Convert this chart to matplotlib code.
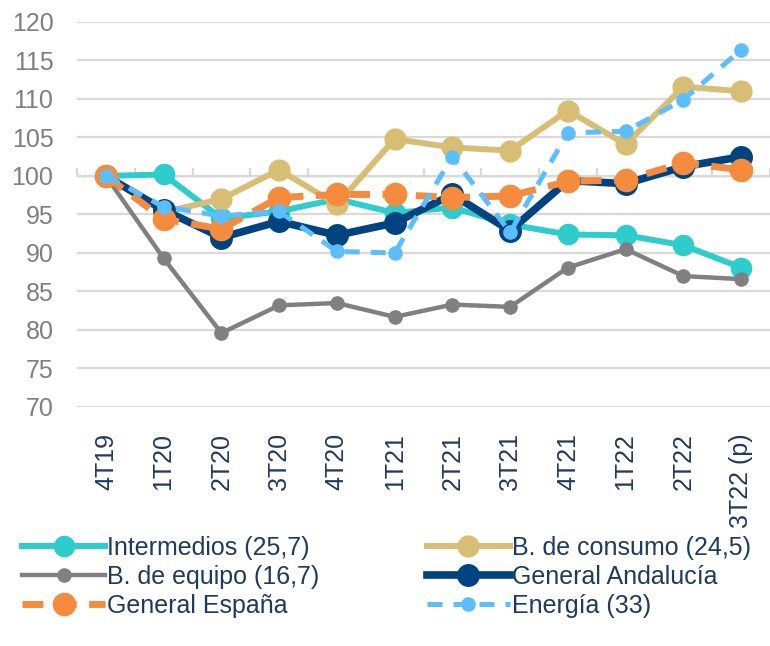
import numpy as np
import matplotlib
matplotlib.use("Agg")
import matplotlib.pyplot as plt

plt.rcParams['font.family'] = ['Liberation Sans', 'DejaVu Sans']

# quarters on the x axis
quarters = ['4T19', '1T20', '2T20', '3T20', '4T20', '1T21', '2T21', '3T21',
            '4T21', '1T22', '2T22', '3T22 (p)']

# index values (4T19 = 100)
intermedios = [100, 100.2, 94.5, 95.4, 97.0, 95.2, 95.9, 93.7, 92.4, 92.3, 91.0, 88.1]
consumo = [100, 95.3, 97.0, 100.8, 96.3, 104.8, 103.7, 103.3, 108.5, 104.1, 111.6, 111.0]
equipo = [100, 89.3, 79.6, 83.2, 83.5, 81.7, 83.3, 83.0, 88.1, 90.5, 87.0, 86.6]
andalucia = [100, 95.6, 92.0, 94.1, 92.3, 93.9, 97.6, 92.9, 99.4, 99.0, 101.2, 102.5]
espana = [100, 94.4, 93.1, 97.2, 97.6, 97.6, 97.2, 97.4, 99.3, 99.5, 101.7, 100.8]
energia = [100, 96.0, 94.8, 95.4, 90.2, 90.0, 102.5, 92.7, 105.6, 105.8, 109.9, 116.4]

labels = ['Intermedios (25,7)', 'B. de consumo (24,5)', 'B. de equipo (16,7)',
          'General Andalucía', 'General España', 'Energía (33)']

navy_text = '#1F3A5F'
grid_col = '#D9D9D9'

fig = plt.figure(figsize=(7.7, 6.46), dpi=100)
ax = fig.add_axes([0.1, 0.37, 0.9, 0.596])

x = np.arange(len(quarters))

l1, = ax.plot(x, intermedios, color='#2ECCCC', lw=4.3, marker='o', ms=14.5)
l2, = ax.plot(x, consumo, color='#D8BD75', lw=4.3, marker='o', ms=15)
l3, = ax.plot(x, equipo, color='#808080', lw=3.2, marker='o', ms=9.5)
l4, = ax.plot(x, andalucia, color='#004381', lw=5.5, marker='o', ms=15.5)
l5, = ax.plot(x, espana, color='#F58B3C', lw=5, ls=(0, (3, 1.8)), marker='o', ms=16)
l6, = ax.plot(x, energia, color='#5CBEFF', lw=3.6, ls=(0, (3, 2.2)), marker='o', ms=9.5)

ax.set_xlim(-0.5, len(quarters) - 0.5)
ax.set_ylim(70, 120)
ax.set_yticks(np.arange(70, 121, 5))
ax.grid(True, axis='y', color=grid_col, lw=1.6)
ax.set_axisbelow(True)
for s in ax.spines.values():
    s.set_visible(False)

ax.set_xticks(x)
ax.set_xticklabels(quarters, rotation=90, va='top', ha='center')
ax.tick_params(axis='x', length=0, pad=19, labelsize=18, labelcolor=navy_text)
ax.tick_params(axis='y', length=0, pad=17, labelsize=18, labelcolor='#7F7F7F')

# horizontal axis crossing at 100 with tick marks between categories
cross = (100 - 70) / 50
sec = ax.secondary_xaxis(cross)
sec.spines['bottom'].set_color(grid_col)
sec.spines['bottom'].set_linewidth(1.6)
sec.set_xticks(np.arange(-0.5, len(quarters), 1.0))
sec.tick_params(axis='x', direction='out', length=6, width=1.6, color=grid_col,
                labelbottom=False, labeltop=False)

# legend filled row by row (two columns)
handles = [l1, l3, l5, l2, l4, l6]
order = [0, 2, 4, 1, 3, 5]
fig.legend(handles, [labels[i] for i in order], loc='upper left',
           bbox_to_anchor=(0.029, 0.171), ncol=2,
           frameon=False, fontsize=18, labelcolor=navy_text,
           handlelength=3.3, handletextpad=0.1, columnspacing=4.3,
           labelspacing=0.2, borderaxespad=0, borderpad=0)

fig.savefig('out.png', dpi=100)
